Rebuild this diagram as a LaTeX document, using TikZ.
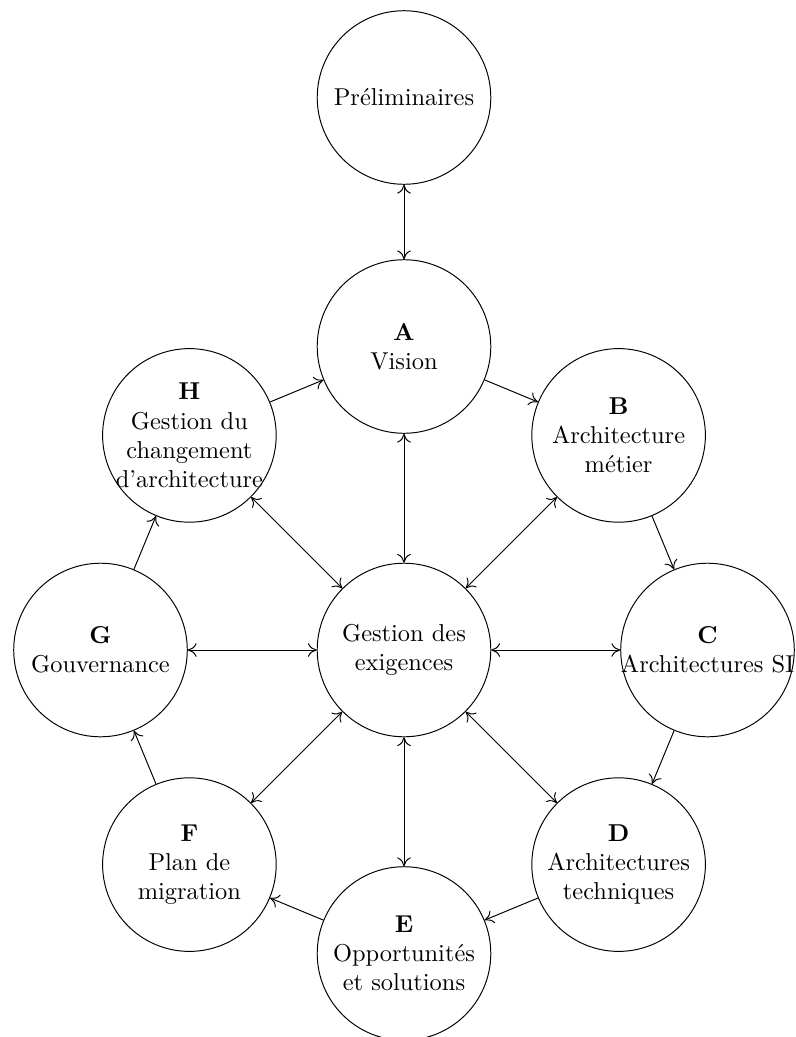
\documentclass[tikz,border=0pt]{standalone}
\usetikzlibrary{arrows.meta}
\begin{document}
\begin{tikzpicture}[x=0.4098pt,y=-0.4098pt,
  >={To[length=3.6pt,width=5.6pt]},
  phase/.style={circle,draw,minimum size=2.5cm,inner sep=0pt},
  lbl/.style={align=center,inner sep=0pt},
  flow/.style={->},
  both/.style={<->}]
\useasboundingbox (0,0) rectangle (795,1037);
\node[phase] (P) at (404,97.5) {};
\node[phase] (X) at (404,650) {};
\node[phase] (A) at (404,346.5) {};
\node[phase] (B) at (618.6,435.4) {};
\node[phase] (C) at (707.5,650) {};
\node[phase] (D) at (618.6,864.6) {};
\node[phase] (E) at (404,953.5) {};
\node[phase] (F) at (189.4,864.6) {};
\node[phase] (G) at (100.5,650) {};
\node[phase] (H) at (189.4,435.4) {};
\node[lbl] (Pt) at (P) {Préliminaires};
\node[lbl] (Xt) at (X) {Gestion des\\exigences};
\node[lbl] (At) at (A) {\textbf{A}\\Vision};
\node[lbl] (Bt) at (B) {\textbf{B}\\Architecture\\métier};
\node[lbl] (Ct) at (C) {\textbf{C}\\Architectures SI};
\node[lbl] (Dt) at (D) {\textbf{D}\\Architectures\\techniques};
\node[lbl] (Et) at (E) {\textbf{E}\\Opportunités\\et solutions};
\node[lbl] (Ft) at (F) {\textbf{F}\\Plan de\\migration};
\node[lbl] (Gt) at (G) {\textbf{G}\\Gouvernance};
\node[lbl] (Ht) at (H) {\textbf{H}\\Gestion du\\changement\\d'architecture};
\draw[both] (P) -- (A);
\draw[flow] (A) -- (B);
\draw[flow] (B) -- (C);
\draw[flow] (C) -- (D);
\draw[flow] (D) -- (E);
\draw[flow] (E) -- (F);
\draw[flow] (F) -- (G);
\draw[flow] (G) -- (H);
\draw[flow] (H) -- (A);
\foreach \n in {A,B,C,D,E,F,G,H} \draw[both] (X) -- (\n);
\end{tikzpicture}
\end{document}
